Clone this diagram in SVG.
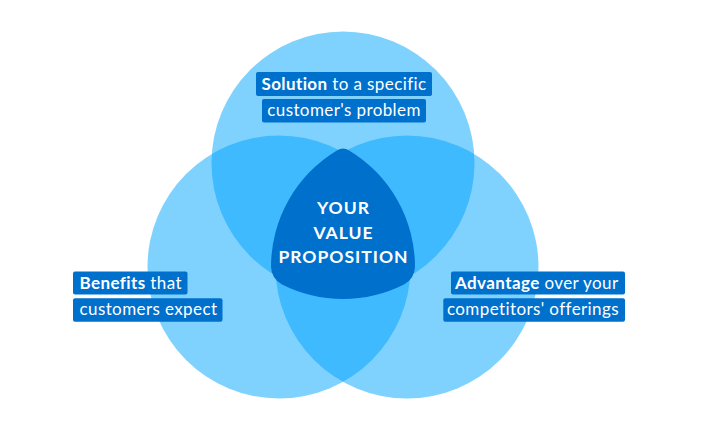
<svg xmlns="http://www.w3.org/2000/svg" width="713" height="428" viewBox="0 0 713 428">
<style>
.light{fill:#80D2FE}
.mid{fill:#40BAFE}
.dark{fill:#0070CD}
.box{fill:#0070CD}
.lbl{font-family:Lato,"Liberation Sans",sans-serif;font-size:17px;fill:#ffffff;letter-spacing:0.4px}
.b{font-weight:700}
.ctr{font-family:Lato,"Liberation Sans",sans-serif;font-size:17.5px;font-weight:700;fill:#ffffff;text-anchor:middle;letter-spacing:1px}
</style>
<defs>
<clipPath id="cT"><circle cx="343" cy="163" r="131.5"/></clipPath>
<clipPath id="cL"><circle cx="279" cy="267" r="131.5"/></clipPath>
<clipPath id="cR"><circle cx="407" cy="267" r="131.5"/></clipPath>
</defs>
<rect width="713" height="428" fill="#ffffff"/>
<g id="circle-solution"><circle class="light" cx="343" cy="163" r="131.5"/></g>
<g id="circle-benefits"><circle class="light" cx="279" cy="267" r="131.5"/></g>
<g id="circle-advantage"><circle class="light" cx="407" cy="267" r="131.5"/></g>
<g id="overlaps">
<circle class="mid" cx="279" cy="267" r="131.5" clip-path="url(#cT)"/>
<circle class="mid" cx="407" cy="267" r="131.5" clip-path="url(#cT)"/>
<circle class="mid" cx="407" cy="267" r="131.5" clip-path="url(#cL)"/>
</g>
<g id="value-proposition">
<path class="dark" d="M336.9 150.4 A136 136 0 0 0 271 266.7 Q271.5 278.7 282 284.5 A136 136 0 0 0 404 284.5 Q414.5 278.7 415 266.7 A136 136 0 0 0 349.1 150.4 Q343 146.5 336.9 150.4 Z"/>
<text class="ctr" x="343.5" y="213.5">YOUR</text>
<text class="ctr" x="343.5" y="238.5">VALUE</text>
<text class="ctr" x="343.5" y="263">PROPOSITION</text>
</g>
<g id="label-solution">
<rect class="box" x="256" y="72" width="176" height="24" rx="2"/>
<rect class="box" x="262" y="99" width="164" height="23.5" rx="2"/>
<text class="lbl" x="344" y="89.5" text-anchor="middle"><tspan class="b">Solution</tspan> to a specific</text>
<text class="lbl" x="344" y="115.5" text-anchor="middle">customer's problem</text>
</g>
<g id="label-benefits">
<rect class="box" x="73" y="271.5" width="114.5" height="23" rx="2"/>
<rect class="box" x="73" y="298.3" width="149.5" height="23.4" rx="2"/>
<text class="lbl" x="79.5" y="288.5"><tspan class="b">Benefits</tspan> that</text>
<text class="lbl" x="79.5" y="315.3">customers expect</text>
</g>
<g id="label-advantage">
<rect class="box" x="451" y="271.5" width="174" height="23" rx="2"/>
<rect class="box" x="443.3" y="298.3" width="181.7" height="23.4" rx="2"/>
<text class="lbl" x="618.5" y="288.5" text-anchor="end"><tspan class="b">Advantage</tspan> over your</text>
<text class="lbl" x="619" y="315.3" text-anchor="end">competitors' offerings</text>
</g>
<g id="connectors"/>
</svg>
